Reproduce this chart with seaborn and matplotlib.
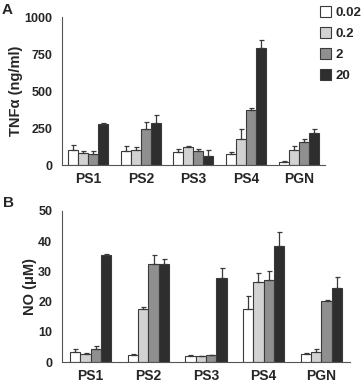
import numpy as np
import pandas as pd
import matplotlib
matplotlib.use("Agg")
import matplotlib.pyplot as plt
import seaborn as sns

groups = ["PS1", "PS2", "PS3", "PS4", "PGN"]
doses = ["0.02", "0.2", "2", "20"]

# TNF-alpha (ng/ml), rows = dose, cols = group
tnf_mean = [[100, 94, 90, 72, 20],
            [83, 105, 119, 179, 101],
            [76, 242, 96, 372, 159],
            [276, 285, 61, 794, 215]]
tnf_err = [[36, 36, 18, 13, 7],
           [9, 18, 13, 63, 31],
           [16, 47, 12, 16, 16],
           [11, 51, 38, 49, 27]]

# NO (uM)
no_mean = [[3.4, 2.4, 2.1, 17.6, 2.8],
           [2.7, 17.6, 2.0, 26.5, 3.2],
           [4.3, 32.5, 2.3, 27.1, 20.3],
           [35.5, 32.3, 27.7, 38.4, 24.5]]
no_err = [[1.1, 0.4, 0.3, 4.2, 0.3],
          [0.4, 0.7, 0.1, 2.9, 1.0],
          [0.9, 2.9, 0.2, 3.1, 0.2],
          [0.3, 1.9, 3.5, 4.5, 3.7]]

colors = ["#ffffff", "#d2d2d2", "#8f8f8f", "#2e2e2e"]
edge = "#3a3a3a"


def make_df(mean, err):
    rows = []
    for i, d in enumerate(doses):
        for j, g in enumerate(groups):
            rows.append({"group": g, "dose": d, "value": mean[i][j], "err": err[i][j]})
    return pd.DataFrame(rows)


def draw_panel(ax, df, width, ylim, yticks, ylabel):
    sns.barplot(data=df, x="group", y="value", hue="dose", order=groups,
                hue_order=doses, palette=colors, width=width, gap=0,
                edgecolor=edge, linewidth=0.8, errorbar=None, legend=False, ax=ax)
    # one-sided error bars on top of each bar
    for cont, d in zip(ax.containers, doses):
        sub = df[df["dose"] == d].set_index("group").loc[groups]
        xs = [p.get_x() + p.get_width() / 2 for p in cont.patches]
        hs = [p.get_height() for p in cont.patches]
        ax.errorbar(xs, hs, yerr=[np.zeros(len(xs)), sub["err"].values],
                    fmt="none", ecolor=edge, elinewidth=0.9, capsize=1.8,
                    capthick=0.9, zorder=1)
    ax.set_xlim(-0.5, 4.5)
    ax.set_ylim(*ylim)
    ax.set_yticks(yticks, labels=[str(t) for t in yticks],
                  fontsize=9, fontweight="bold")
    ax.set_xticks(range(len(groups)), labels=groups,
                  fontsize=10, fontweight="bold")
    ax.set_xticks(np.arange(-0.5, 5, 1), minor=True)
    ax.tick_params(axis="x", which="major", length=0, pad=5)
    ax.tick_params(axis="x", which="minor", length=3, width=0.8, color="#555555")
    ax.tick_params(axis="y", length=3, width=0.8, color="#555555", pad=4)
    ax.set_xlabel("")
    ax.set_ylabel(ylabel, fontsize=10.5, fontweight="bold")
    sns.despine(ax=ax)
    for s in ["left", "bottom"]:
        ax.spines[s].set_color("#555555")
        ax.spines[s].set_linewidth(0.8)


sns.set_style("white")
plt.rcParams["font.family"] = ["Liberation Sans", "DejaVu Sans"]
plt.rcParams["font.weight"] = "bold"

fig = plt.figure(figsize=(3.64, 3.82), dpi=100)
ax1 = fig.add_axes([0.170, 0.568, 0.723, 0.387])
ax2 = fig.add_axes([0.170, 0.052, 0.792, 0.396])

draw_panel(ax1, make_df(tnf_mean, tnf_err), 0.76, (0, 1000),
           [0, 250, 500, 750, 1000], "TNF\u03b1 (ng/ml)")
draw_panel(ax2, make_df(no_mean, no_err), 0.72, (0, 50),
           [0, 10, 20, 30, 40, 50], "NO (\u03bcM)")
ax1.yaxis.set_label_coords(-0.148, 0.5)
ax2.yaxis.set_label_coords(-0.086, 0.5)

handles = [plt.Rectangle((0, 0), 1, 1, facecolor=c, edgecolor=edge, linewidth=0.8)
           for c in colors]
fig.legend(handles, doses, loc="upper left", bbox_to_anchor=(0.878, 0.985),
           frameon=False, prop={"size": 9.5, "weight": "bold"},
           handlelength=0.9, handleheight=0.9, handletextpad=0.3,
           labelspacing=0.6, borderaxespad=0, borderpad=0)

fig.text(0.005, 0.975, "A", fontsize=11, fontweight="bold", va="center")
fig.text(0.008, 0.468, "B", fontsize=11, fontweight="bold", va="center")

plt.savefig("out.png", dpi=100)
